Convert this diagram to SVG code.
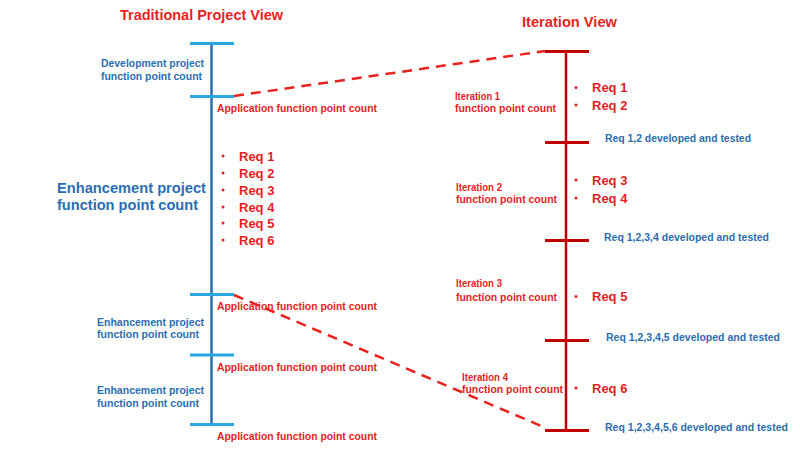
<svg xmlns="http://www.w3.org/2000/svg" width="800" height="449" viewBox="0 0 800 449">
<style>
text{font-family:"Liberation Sans",Arial,sans-serif;font-weight:bold}
.title{font-size:15px;fill:#E8231E}
.app{font-size:10px;fill:#E31E24}
.blue{font-size:10px;fill:#2A6EB0}
.big{font-size:14px;fill:#2A6EB0}
.req{font-size:13px;fill:#E31E24}
.it{font-size:10px;fill:#E31E24}
.bul{fill:#E31E24}
.axisL{stroke:#2A6EB0;stroke-width:2.5}
.tickL{stroke:#29A8E0;stroke-width:3}
.axisR{stroke:#C00000;stroke-width:2.5}
.tickR{stroke:#C00000;stroke-width:3}
.dash{stroke:#E8231E;stroke-width:2.5;stroke-dasharray:10 7;fill:none}
</style>
<rect width="800" height="449" fill="#fff"/>
<g id="titles">
<text class="title" x="120" y="20" textLength="163" lengthAdjust="spacingAndGlyphs">Traditional Project View</text>
<text class="title" x="522" y="27" textLength="95" lengthAdjust="spacingAndGlyphs" style="font-size:14px">Iteration View</text>
</g>
<g id="traditional-axis">
<line class="axisL" x1="211.5" y1="43" x2="211.5" y2="425"/>
<line class="tickL" x1="190" y1="43.5" x2="234" y2="43.5"/>
<line class="tickL" x1="190" y1="96.5" x2="234" y2="96.5"/>
<line class="tickL" x1="190" y1="294.5" x2="234" y2="294.5"/>
<line class="tickL" x1="190" y1="355" x2="234" y2="355"/>
<line class="tickL" x1="190" y1="424.5" x2="234" y2="424.5"/>
</g>
<g id="dev-project">
<text class="blue" x="101" y="67" textLength="103" lengthAdjust="spacingAndGlyphs">Development project</text>
<text class="blue" x="101" y="80" textLength="101" lengthAdjust="spacingAndGlyphs">function point count</text>
</g>
<g id="app-fpc-1"><text class="app" x="217" y="112" textLength="160" lengthAdjust="spacingAndGlyphs">Application function point count</text></g>
<g id="enh-project-1">
<text class="big" x="57" y="193" textLength="149" lengthAdjust="spacingAndGlyphs">Enhancement project</text>
<text class="big" x="57" y="210" textLength="141" lengthAdjust="spacingAndGlyphs">function point count</text>
</g>
<g id="reqs-left">
<circle class="bul" cx="223" cy="156" r="1.5"/><text class="req" x="239" y="160.5">Req 1</text>
<circle class="bul" cx="223" cy="173" r="1.5"/><text class="req" x="239" y="177.5">Req 2</text>
<circle class="bul" cx="223" cy="190" r="1.5"/><text class="req" x="239" y="194.5">Req 3</text>
<circle class="bul" cx="223" cy="207" r="1.5"/><text class="req" x="239" y="211.5">Req 4</text>
<circle class="bul" cx="223" cy="223" r="1.5"/><text class="req" x="239" y="227.5">Req 5</text>
<circle class="bul" cx="223" cy="240" r="1.5"/><text class="req" x="239" y="244.5">Req 6</text>
</g>
<g id="app-fpc-2"><text class="app" x="217" y="309.5" textLength="160" lengthAdjust="spacingAndGlyphs">Application function point count</text></g>
<g id="enh-project-2">
<text class="blue" x="97" y="325.5" textLength="107" lengthAdjust="spacingAndGlyphs">Enhancement project</text>
<text class="blue" x="97" y="338" textLength="102" lengthAdjust="spacingAndGlyphs">function point count</text>
</g>
<g id="app-fpc-3"><text class="app" x="217" y="371" textLength="160" lengthAdjust="spacingAndGlyphs">Application function point count</text></g>
<g id="enh-project-3">
<text class="blue" x="97" y="394" textLength="107" lengthAdjust="spacingAndGlyphs">Enhancement project</text>
<text class="blue" x="97" y="406.5" textLength="102" lengthAdjust="spacingAndGlyphs">function point count</text>
</g>
<g id="app-fpc-4"><text class="app" x="217" y="439.5" textLength="160" lengthAdjust="spacingAndGlyphs">Application function point count</text></g>
<g id="iteration-axis">
<line class="axisR" x1="566" y1="51" x2="566" y2="431"/>
<line class="tickR" x1="545" y1="51.5" x2="589" y2="51.5"/>
<line class="tickR" x1="545" y1="142.5" x2="589" y2="142.5"/>
<line class="tickR" x1="545" y1="240.5" x2="589" y2="240.5"/>
<line class="tickR" x1="545" y1="340.5" x2="589" y2="340.5"/>
<line class="tickR" x1="545" y1="430.5" x2="589" y2="430.5"/>
</g>
<g id="iteration-1">
<text class="it" x="455" y="99.5" textLength="45" lengthAdjust="spacingAndGlyphs">Iteration 1</text>
<text class="it" x="455" y="111.5" textLength="101" lengthAdjust="spacingAndGlyphs">function point count</text>
<circle class="bul" cx="576" cy="87.5" r="1.5"/><text class="req" x="592" y="92">Req 1</text>
<circle class="bul" cx="576" cy="105" r="1.5"/><text class="req" x="592" y="109.5">Req 2</text>
</g>
<g id="done-1"><text class="blue" x="605" y="142" textLength="146" lengthAdjust="spacingAndGlyphs">Req 1,2 developed and tested</text></g>
<g id="iteration-2">
<text class="it" x="456" y="190.5" textLength="46" lengthAdjust="spacingAndGlyphs">Iteration 2</text>
<text class="it" x="456" y="203" textLength="101" lengthAdjust="spacingAndGlyphs">function point count</text>
<circle class="bul" cx="576" cy="180" r="1.5"/><text class="req" x="592" y="184.5">Req 3</text>
<circle class="bul" cx="576" cy="198" r="1.5"/><text class="req" x="592" y="202.5">Req 4</text>
</g>
<g id="done-2"><text class="blue" x="604" y="241" textLength="165" lengthAdjust="spacingAndGlyphs">Req 1,2,3,4 developed and tested</text></g>
<g id="iteration-3">
<text class="it" x="456" y="287" textLength="46" lengthAdjust="spacingAndGlyphs">Iteration 3</text>
<text class="it" x="456" y="300.5" textLength="101" lengthAdjust="spacingAndGlyphs">function point count</text>
<circle class="bul" cx="576" cy="296.5" r="1.5"/><text class="req" x="592" y="301">Req 5</text>
</g>
<g id="done-3"><text class="blue" x="606" y="340.5" textLength="174" lengthAdjust="spacingAndGlyphs">Req 1,2,3,4,5 developed and tested</text></g>
<g id="iteration-4">
<text class="it" x="462" y="381" textLength="46" lengthAdjust="spacingAndGlyphs">Iteration 4</text>
<text class="it" x="462" y="393" textLength="101" lengthAdjust="spacingAndGlyphs">function point count</text>
<circle class="bul" cx="576" cy="388" r="1.5"/><text class="req" x="592" y="392.5">Req 6</text>
</g>
<g id="done-4"><text class="blue" x="605" y="431" textLength="183" lengthAdjust="spacingAndGlyphs">Req 1,2,3,4,5,6 developed and tested</text></g>
<g id="connectors">
<line class="dash" x1="234" y1="96" x2="545" y2="51"/>
<line class="dash" x1="234" y1="295" x2="546" y2="428"/>
</g>
</svg>
